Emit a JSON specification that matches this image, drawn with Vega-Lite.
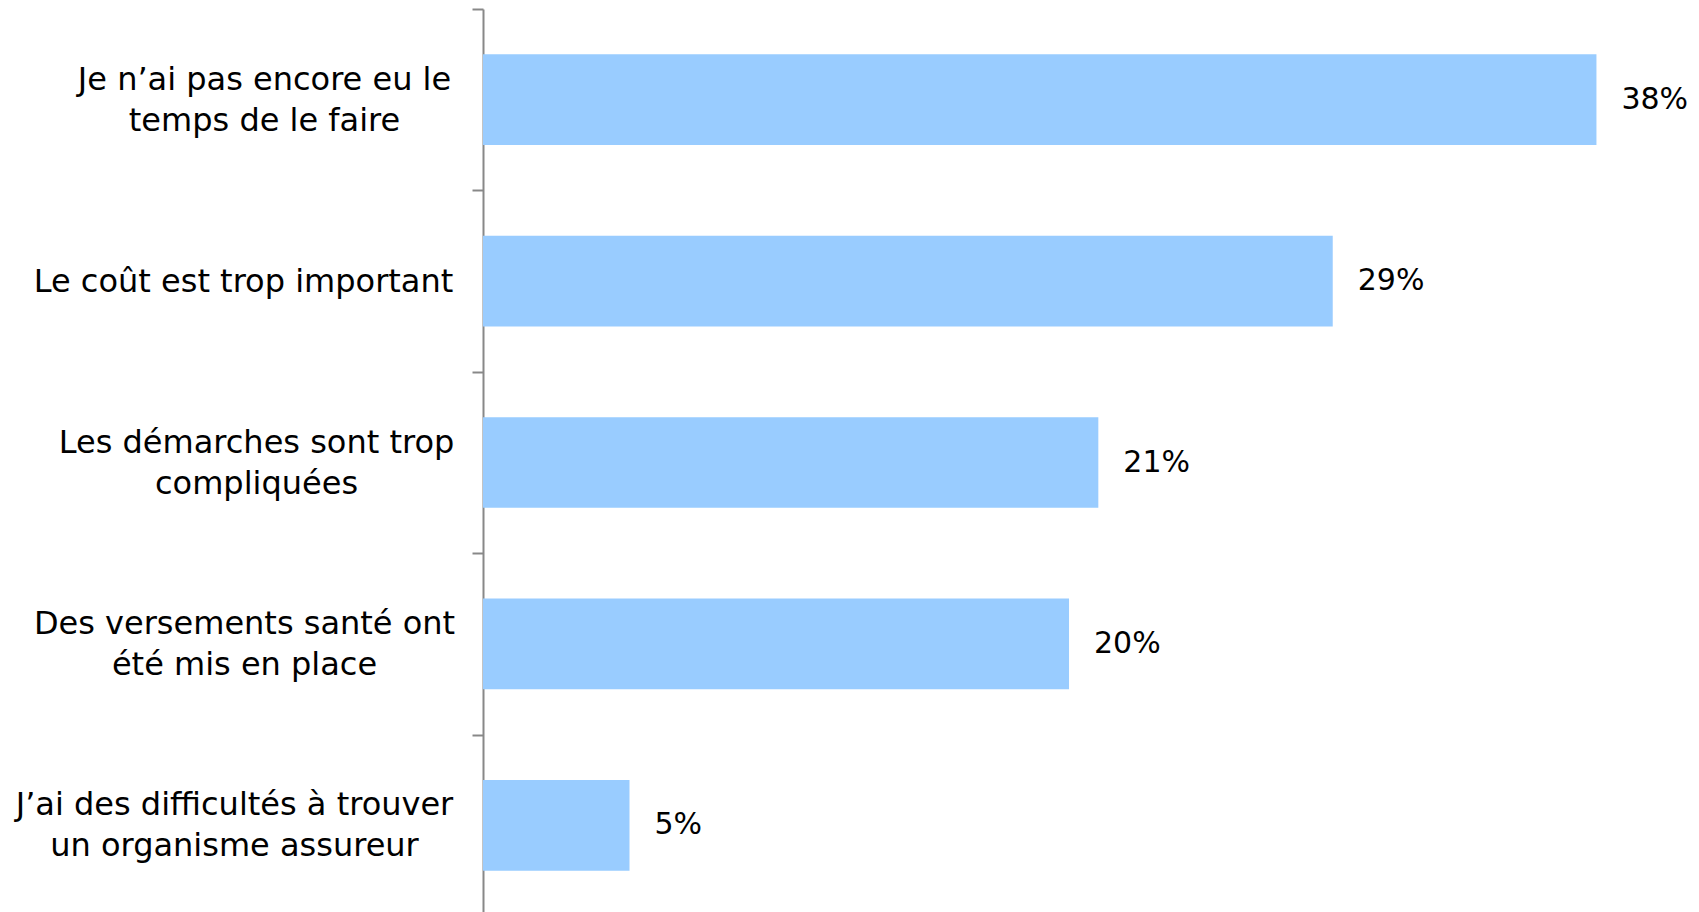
{
  "$schema": "https://vega.github.io/schema/vega-lite/v6.json",
  "autosize": "none",
  "padding": {"left": 483, "top": 9, "right": 0, "bottom": 0},
  "width": 1216,
  "height": 907,
  "background": "white",
  "data": {
    "values": [
      {"reason": "Je n’ai pas encore eu le|temps de le faire", "value": 38, "label": "38%"},
      {"reason": "Le coût est trop important", "value": 29, "label": "29%"},
      {"reason": "Les démarches sont trop|compliquées", "value": 21, "label": "21%"},
      {"reason": "Des versements santé ont|été mis en place", "value": 20, "label": "20%"},
      {"reason": "J’ai des difficultés à trouver|un organisme  assureur", "value": 5, "label": "5%"}
    ]
  },
  "encoding": {
    "y": {
      "field": "reason",
      "type": "nominal",
      "sort": null,
      "title": null,
      "scale": {"paddingInner": 0.5, "paddingOuter": 0.25},
      "axis": {
        "labelExpr": "split(datum.label, '|')",
        "labelFont": "DejaVu Sans",
        "labelFontSize": 32,
        "labelColor": "#000000",
        "labelLineHeight": 41,
        "labelAlign": "center",
        "labelBaseline": "middle",
        "labelPadding": {"expr": "slice(datum.value,0,4) == 'Je n' ? 208 : slice(datum.value,0,3) == 'Le ' ? 229 : slice(datum.value,0,3) == 'Les' ? 216 : slice(datum.value,0,3) == 'Des' ? 228 : 238"},
        "labelOffset": {"expr": "slice(datum.value,0,3) == 'Le ' ? 90.7 : 70.2"},
        "labelLimit": 600,
        "labelOverlap": false,
        "tickOffset": -90.7,
        "tickSize": 11,
        "tickWidth": 2,
        "tickColor": "#888888",
        "domainColor": "#888888",
        "domainWidth": 2,
        "grid": false
      }
    },
    "x": {
      "field": "value",
      "type": "quantitative",
      "scale": {"domain": [0, 41.5], "nice": false},
      "axis": null
    }
  },
  "layer": [
    {"mark": {"type": "bar", "color": "#99CCFF"}},
    {
      "mark": {"type": "text", "align": "left", "baseline": "middle", "dx": 25, "font": "DejaVu Sans", "fontSize": 30, "color": "#000000"},
      "encoding": {"text": {"field": "label"}}
    }
  ],
  "config": {"view": {"stroke": null}}
}
